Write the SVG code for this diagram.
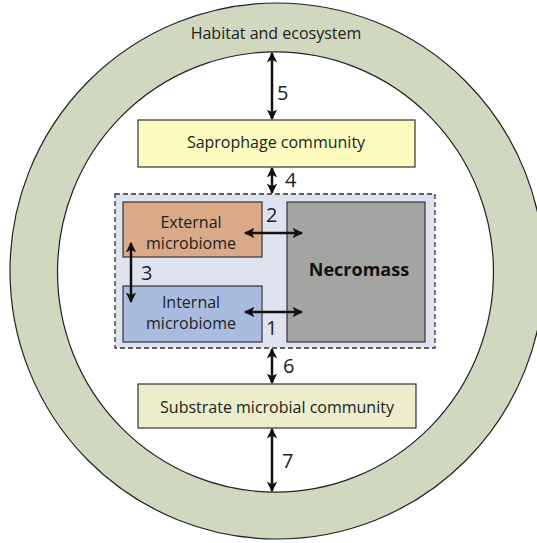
<svg xmlns="http://www.w3.org/2000/svg" width="537" height="543" viewBox="0 0 537 543">
<defs>
<style>
text{font-family:"Open Sans","Liberation Sans",sans-serif;fill:#222;text-anchor:middle}
.lbl{font-size:16px}
.num{font-size:20px;text-anchor:start}
.box{stroke:#333;stroke-width:1.2}
.conn{stroke:#111;stroke-width:2.5;fill:none;marker-start:url(#ah);marker-end:url(#ah)}
</style>
<marker id="ah" viewBox="0 0 10 10" refX="9" refY="5" markerWidth="4.2" markerHeight="4.2" orient="auto-start-reverse" markerUnits="strokeWidth">
<path d="M0,0 L10,5 L0,10 L2.5,5 z" fill="#111"/>
</marker>
</defs>
<rect width="537" height="543" fill="#fff"/>
<g id="habitat">
<path fill-rule="evenodd" fill="#d0d8bf" stroke="#222" stroke-width="1.2" d="M10,271 a267,268 0 1,0 534,0 a267,268 0 1,0 -534,0 Z M57.5,272 a218,220 0 1,0 436,0 a218,220 0 1,0 -436,0 Z"/>
<text class="lbl" x="276" y="39">Habitat and ecosystem</text>
</g>
<g id="saprophage">
<rect class="box" x="138" y="120" width="277" height="47" fill="#fdfcc0"/>
<text class="lbl" x="276" y="148">Saprophage community</text>
</g>
<g id="individual">
<rect x="115" y="194" width="320" height="154" fill="#dfe3ef" stroke="#333" stroke-width="1.3" stroke-dasharray="5,3"/>
</g>
<g id="external">
<rect class="box" x="123" y="202" width="139" height="55" fill="#d9a988"/>
<text class="lbl" x="191" y="228">External</text>
<text class="lbl" x="191" y="249">microbiome</text>
</g>
<g id="internal">
<rect class="box" x="123" y="286" width="139" height="56" fill="#a9bce0"/>
<text class="lbl" x="191" y="308">Internal</text>
<text class="lbl" x="191" y="329">microbiome</text>
</g>
<g id="necromass">
<rect class="box" x="287" y="202" width="138" height="140" fill="#a4a5a2"/>
<text x="359" y="276" style="font-size:18px;font-weight:bold;fill:#111">Necromass</text>
</g>
<g id="substrate">
<rect class="box" x="138" y="384" width="278" height="44" fill="#ebedcb"/>
<text class="lbl" x="277" y="413">Substrate microbial community</text>
</g>
<g id="connectors">
<line class="conn" x1="272" y1="53" x2="272" y2="119"/>
<line class="conn" x1="272" y1="168" x2="272" y2="193"/>
<line class="conn" x1="245" y1="233" x2="302" y2="233"/>
<line class="conn" x1="131" y1="243" x2="131" y2="302"/>
<line class="conn" x1="245" y1="312" x2="302" y2="312"/>
<line class="conn" x1="272" y1="349" x2="272" y2="383"/>
<line class="conn" x1="272" y1="429" x2="272" y2="491"/>
<text class="num" x="277" y="100">5</text>
<text class="num" x="285" y="187">4</text>
<text class="num" x="266" y="222">2</text>
<text class="num" x="141" y="280">3</text>
<text class="num" x="266" y="335">1</text>
<text class="num" x="283" y="373">6</text>
<text class="num" x="282" y="468">7</text>
</g>
</svg>
